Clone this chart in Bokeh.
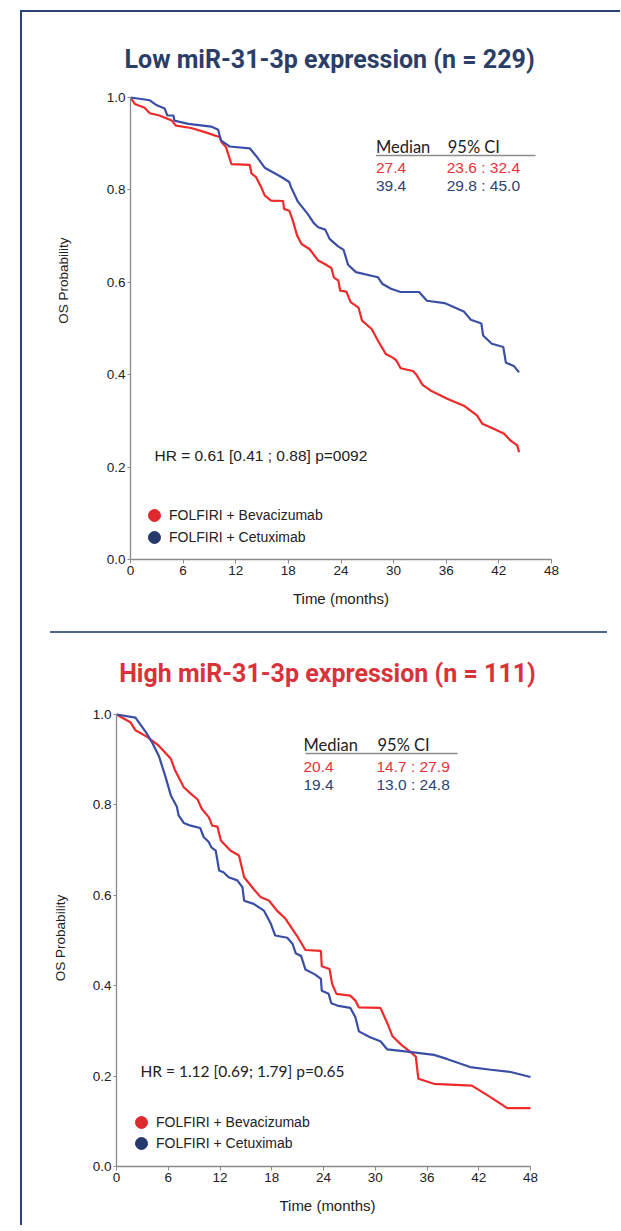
import math
from bokeh.plotting import figure
from bokeh.models import (Range1d, FixedTicker, NumeralTickFormatter, Label, Legend,
                          LegendItem, Title, Div, Spacer)
from bokeh.layouts import column, row
from bokeh.embed import file_html
from bokeh.resources import INLINE

# ---------------- data ----------------
months_ticks = [0, 6, 12, 18, 24, 30, 36, 42, 48]
prob_ticks = [0.0, 0.2, 0.4, 0.6, 0.8, 1.0]
arm_labels = ["FOLFIRI + Bevacizumab", "FOLFIRI + Cetuximab"]

low_title = "Low miR-31-3p expression (n = 229)"
low_bev_t = [0, 0.5, 1.6, 2.2, 3.3, 4.7, 5.2, 6.9, 8.5, 10.2, 10.4, 10.9, 11.5, 13.6, 13.8, 14.3,
             14.9, 15.3, 16.0, 17.4, 17.5, 18.1, 18.5, 19.0, 19.5, 20.4, 21.4, 22.1, 22.9, 23.2,
             23.7, 23.9, 24.6, 25.1, 26.0, 26.4, 27.5, 28.2, 29.1, 29.9, 30.3, 30.8, 32.2, 32.6,
             33.3, 34.2, 36.1, 38.0, 39.5, 40.1, 41.4, 42.6, 43.3, 44.1, 44.3]
low_bev_s = [1.0, 0.986, 0.978, 0.966, 0.961, 0.950, 0.939, 0.934, 0.925, 0.914, 0.903, 0.892,
             0.856, 0.854, 0.835, 0.828, 0.806, 0.788, 0.777, 0.776, 0.759, 0.755, 0.734, 0.701,
             0.683, 0.672, 0.647, 0.640, 0.631, 0.610, 0.604, 0.582, 0.580, 0.557, 0.545, 0.517,
             0.499, 0.474, 0.445, 0.437, 0.431, 0.414, 0.408, 0.400, 0.378, 0.366, 0.348, 0.333,
             0.312, 0.294, 0.283, 0.272, 0.258, 0.247, 0.232]
low_cet_t = [0, 2.2, 3.0, 3.9, 4.2, 4.9, 5.0, 6.6, 9.2, 10.0, 10.3, 11.3, 13.6, 14.3, 15.3, 17.2,
             18.1, 18.3, 19.1, 20.2, 20.9, 21.4, 22.2, 22.7, 23.6, 24.3, 24.8, 25.7, 28.2, 28.7,
             29.7, 30.8, 32.9, 33.8, 35.8, 38.0, 38.8, 40.0, 40.2, 41.2, 42.5, 42.8, 43.7, 44.3]
low_cet_s = [1.0, 0.994, 0.983, 0.976, 0.961, 0.961, 0.950, 0.943, 0.937, 0.930, 0.907, 0.894,
             0.890, 0.874, 0.848, 0.828, 0.817, 0.806, 0.774, 0.748, 0.728, 0.719, 0.714, 0.694,
             0.679, 0.670, 0.638, 0.622, 0.611, 0.597, 0.586, 0.579, 0.579, 0.560, 0.555, 0.537,
             0.519, 0.511, 0.485, 0.467, 0.460, 0.426, 0.419, 0.405]
low_median = ["27.4", "39.4"]
low_ci = ["23.6 : 32.4", "29.8 : 45.0"]
low_hr = "HR = 0.61 [0.41 ; 0.88] p=0092"

high_title = "High miR-31-3p expression (n = 111)"
high_bev_t = [0, 1.6, 2.2, 3.6, 4.9, 6.3, 6.8, 7.8, 8.6, 9.4, 9.9, 10.7, 11.1, 11.7, 12.1, 13.2,
              14.2, 14.8, 15.9, 16.7, 17.7, 18.6, 19.6, 20.9, 21.9, 23.7, 23.8, 24.7, 25.0, 25.5,
              27.1, 27.7, 28.1, 30.6, 31.4, 32.0, 33.1, 34.1, 34.7, 35.0, 36.8, 41.2, 43.4, 45.3, 48.0]
high_bev_s = [1.0, 0.983, 0.965, 0.950, 0.931, 0.902, 0.876, 0.839, 0.825, 0.812, 0.791, 0.773,
              0.754, 0.752, 0.721, 0.699, 0.688, 0.640, 0.614, 0.596, 0.588, 0.566, 0.548, 0.511,
              0.479, 0.477, 0.443, 0.437, 0.404, 0.382, 0.378, 0.367, 0.352, 0.351, 0.317, 0.288,
              0.268, 0.253, 0.243, 0.194, 0.183, 0.179, 0.153, 0.129, 0.129]
high_cet_t = [0, 2.2, 3.4, 4.1, 4.9, 5.7, 6.3, 7.0, 7.2, 7.8, 8.6, 9.7, 10.1, 10.7, 11.0, 11.5,
              11.9, 12.4, 13.0, 14.0, 14.6, 14.8, 15.9, 17.1, 17.9, 18.4, 19.8, 20.4, 20.8, 21.4,
              21.9, 23.0, 23.7, 23.8, 24.6, 24.9, 25.6, 27.1, 27.7, 28.1, 29.4, 30.6, 31.4, 33.7,
              36.8, 38.3, 41.0, 43.4, 45.7, 48.0]
high_cet_s = [1.0, 0.993, 0.961, 0.939, 0.909, 0.861, 0.821, 0.796, 0.777, 0.760, 0.754, 0.749,
              0.729, 0.718, 0.706, 0.699, 0.655, 0.651, 0.640, 0.633, 0.618, 0.588, 0.581, 0.566,
              0.537, 0.511, 0.506, 0.493, 0.471, 0.466, 0.436, 0.425, 0.415, 0.389, 0.382, 0.361,
              0.356, 0.351, 0.330, 0.299, 0.286, 0.277, 0.259, 0.254, 0.247, 0.238, 0.220, 0.214,
              0.209, 0.198]
high_median = ["20.4", "19.4"]
high_ci = ["14.7 : 27.9", "13.0 : 24.8"]
high_hr = "HR = 1.12 [0.69; 1.79] p=0.65"

# ---------------- styles ----------------
RED_LINE = "#f02a2a"
BLUE_LINE = "#3b4ea6"
RED_TXT = "#e5333a"
BLUE_TXT = "#2d4275"
RED_DOT = "#dc2a2f"
BLUE_DOT = "#26396c"
NAVY = "#2c4270"
AX = "#8a8a8a"
TXT = "#222222"
ARIAL = "Liberation Sans"
CALIBRI = "Lato"

FRAME_W = 422
B_RIGHT = 40
GLYPH = 30


def make_panel(title, title_color, bev_t, bev_s, cet_t, cet_s, median, ci, hr,
               b_left, height, b_top, b_bottom, x_end, y_end, title_align, title_offset,
               title_standoff, ylab_mode, ylab_standoff, ylab_offset, table_px, hr_px,
               legend_locs, hr_font, hr_size, origin, scale):
    ox, oy = origin
    sx, sy = scale

    def d(px, py):
        return ((px - ox) / sx, (oy - py) / sy)

    width = b_left + FRAME_W + B_RIGHT
    p = figure(width=width, height=height, output_backend="svg", toolbar_location=None,
               x_range=Range1d(0, x_end), y_range=Range1d(0, y_end),
               min_border_left=b_left, min_border_right=B_RIGHT,
               min_border_top=b_top, min_border_bottom=b_bottom)
    p.outline_line_color = None
    p.grid.visible = False
    p.background_fill_color = "white"
    p.border_fill_color = "white"

    t = Title(text=title, text_font="Roboto", text_font_size="25px", text_font_style="bold",
              text_color=title_color, align=title_align, offset=title_offset,
              standoff=title_standoff)
    p.add_layout(t, "above")

    for ax in (p.xaxis[0], p.yaxis[0]):
        ax.axis_line_color = AX
        ax.axis_line_width = 1.3
        ax.major_tick_line_color = AX
        ax.major_tick_in = 0
        ax.minor_tick_line_color = None
        ax.major_label_text_font = ARIAL
        ax.major_label_text_font_size = "13.5px"
        ax.major_label_text_color = TXT
        ax.major_label_standoff = 2
    p.xaxis.ticker = FixedTicker(ticks=months_ticks)
    p.xaxis.bounds = (0, 48)
    p.xaxis.major_tick_out = 4
    p.xaxis.axis_label = "Time (months)"
    p.xaxis.axis_label_text_font = ARIAL
    p.xaxis.axis_label_text_font_size = "15px"
    p.xaxis.axis_label_text_font_style = "normal"
    p.xaxis.axis_label_text_color = TXT
    p.xaxis.axis_label_standoff = 12
    p.yaxis.ticker = FixedTicker(ticks=prob_ticks)
    p.yaxis.formatter = NumeralTickFormatter(format="0.0")
    p.yaxis.bounds = (0, 1)
    p.yaxis.major_tick_out = 3

    if ylab_mode == "axis":
        p.yaxis.axis_label = "OS Probability"
        p.yaxis.axis_label_standoff = ylab_standoff
        p.yaxis.axis_label_text_font = ARIAL
        p.yaxis.axis_label_text_font_size = "13.5px"
        p.yaxis.axis_label_text_font_style = "normal"
        p.yaxis.axis_label_text_color = TXT
    else:
        yt = Title(text="OS Probability", text_font=ARIAL, text_font_size="13.5px",
                   text_font_style="normal", text_color=TXT, align="right",
                   offset=ylab_offset, standoff=ylab_standoff, vertical_align="middle")
        p.add_layout(yt, "left")

    p.line(bev_t, bev_s, line_color=RED_LINE, line_width=2.2)
    p.line(cet_t, cet_s, line_color=BLUE_LINE, line_width=2.2)

    # median table
    (mx, cx, hy, ry1, ry2, rule_x0, rule_x1, rule_y) = table_px
    for txt, px in (("Median", mx), ("95% CI", cx)):
        x, y = d(px, hy)
        p.add_layout(Label(x=x, y=y, text=txt, text_align="left", text_baseline="middle",
                           text_font=CALIBRI, text_font_size="16.5px", text_color=TXT))
    x0, yr = d(rule_x0, rule_y)
    x1, _ = d(rule_x1, rule_y)
    p.segment(x0=[x0], y0=[yr], x1=[x1], y1=[yr], line_color="#8c8c8c", line_width=1.5)
    for ry, col, med, c in ((ry1, RED_TXT, median[0], ci[0]), (ry2, BLUE_TXT, median[1], ci[1])):
        x, y = d(mx, ry)
        p.add_layout(Label(x=x, y=y, text=med, text_align="left", text_baseline="middle",
                           text_font=ARIAL, text_font_size="15.5px", text_color=col))
        x, y = d(cx - 1, ry)
        p.add_layout(Label(x=x, y=y, text=c, text_align="left", text_baseline="middle",
                           text_font=ARIAL, text_font_size="15.5px", text_color=col))

    hx, hy2 = d(*hr_px)
    p.add_layout(Label(x=hx, y=hy2, text=hr, text_align="left", text_baseline="middle",
                       text_font=hr_font, text_font_size=hr_size, text_color=TXT))

    nan = float("nan")
    for lab, col, loc in zip(arm_labels, (RED_DOT, BLUE_DOT), legend_locs):
        r = p.scatter(x=[nan], y=[nan], size=12, fill_color=col, line_color=col)
        leg = Legend(items=[LegendItem(label=lab, renderers=[r])],
                     location=loc, label_text_font=ARIAL, label_text_font_size="14px",
                     label_text_color=TXT, glyph_width=GLYPH, glyph_height=GLYPH,
                     label_height=20, label_standoff=0, spacing=0, padding=0, margin=0,
                     border_line_color=None, background_fill_alpha=0)
        p.add_layout(leg)
    return p


# top panel: page coords -> frame left 129, bottom 559 ; 8.7917 px/month ; 462 px/unit
p1 = make_panel(low_title, "#2b3e68", low_bev_t, low_bev_s, low_cet_t, low_cet_s,
                low_median, low_ci, low_hr,
                b_left=107, height=614, b_top=80, b_bottom=67,
                x_end=48, y_end=467 / 462, title_align="left", title_offset=-6,
                title_standoff=38, ylab_mode="title", ylab_standoff=64, ylab_offset=145,
                table_px=(375, 447, 146, 167, 185, 375, 535, 155),
                hr_px=(153, 455), legend_locs=[(9, 29), (9, 7)],
                hr_font=ARIAL, hr_size="15.5px",
                origin=(129, 559), scale=(422 / 48, 462))

# bottom panel: frame left 116, bottom 1166 ; 8.625 px/month ; 452 px/unit
p2 = make_panel(high_title, "#d9323a", high_bev_t, high_bev_s, high_cet_t, high_cet_s,
                high_median, high_ci, high_hr,
                b_left=94, height=590, b_top=76, b_bottom=57,
                x_end=FRAME_W / 8.625, y_end=457 / 452, title_align="center", title_offset=0,
                title_standoff=44, ylab_mode="axis", ylab_standoff=22, ylab_offset=0,
                table_px=(303, 377, 744, 766, 784, 305, 457, 753),
                hr_px=(140, 1070), legend_locs=[(10, 29), (10, 8)],
                hr_font=CALIBRI, hr_size="15.5px",
                origin=(116, 1166), scale=(8.625, 452))

left_line = Div(text="", width=2, height=1215, margin=0, styles={"background-color": NAVY})
top_line = Div(text="", width=598, height=2, margin=0, styles={"background-color": NAVY})
sep_line = Div(text="", width=557, height=2, margin=(5, 0, 0, 28),
               styles={"background-color": "#4d6596"})

inner = column(top_line, row(p1, spacing=0), sep_line, row(p2, spacing=0), spacing=0)
framed = row(left_line, inner, spacing=0)
layout = row(Spacer(width=20, height=10), column(Spacer(width=10, height=10), framed, spacing=0),
             spacing=0)

open("out.html", "w").write(file_html(layout, INLINE))
